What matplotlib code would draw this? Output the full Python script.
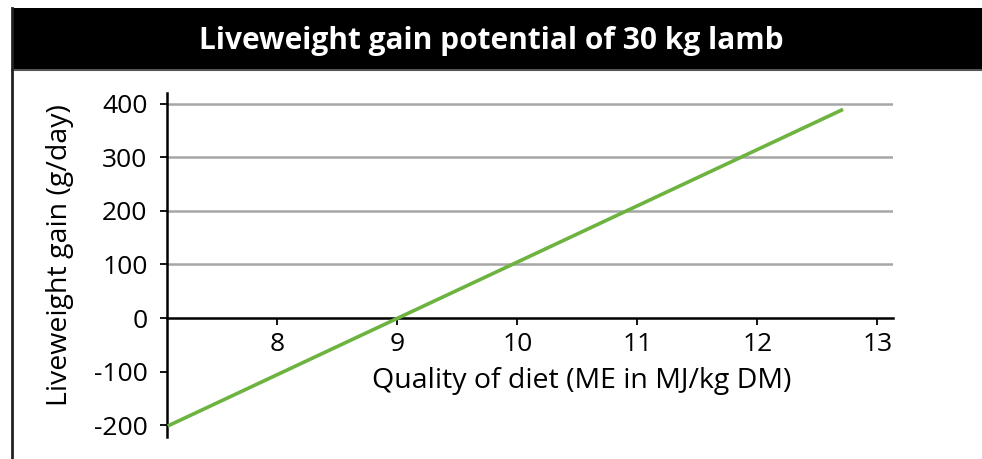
import matplotlib.pyplot as plt
from matplotlib.patches import Rectangle
from matplotlib.lines import Line2D

# data
diet_me = [7.1, 12.7]          # MJ/kg DM
lw_gain = [-200, 388]          # g/day
x_ticks = [8, 9, 10, 11, 12, 13]
y_ticks = [-200, -100, 0, 100, 200, 300, 400]
grid_levels = [100, 200, 300, 400]

plt.rcParams['font.family'] = ['Open Sans', 'DejaVu Sans']
plt.rcParams['axes.unicode_minus'] = False

fig = plt.figure(figsize=(9.82, 4.59), dpi=100)

# title band + left frame line
fig.patches.append(Rectangle((12 / 982, 1 - 70 / 459), 1, 62 / 459,
                             transform=fig.transFigure, facecolor='black',
                             edgecolor='none', zorder=0))
fig.lines.append(Line2D([12 / 982, 1], [1 - 70 / 459] * 2, transform=fig.transFigure,
                        color='#555555', lw=1.5))
fig.lines.append(Line2D([12 / 982] * 2, [0, 1 - 8 / 459], transform=fig.transFigure,
                        color='#222222', lw=2))
fig.text(491 / 982, 1 - 41 / 459, 'Liveweight gain potential of 30 kg lamb',
         color='white', fontsize=21.5, fontweight='bold', ha='center', va='center')

ax = fig.add_axes([167 / 982, 1 - 437 / 459, (893 - 167) / 982, (437 - 93) / 459])
for g in grid_levels:
    ax.axhline(g, color='#a6a6a6', lw=1.8, zorder=1)
ax.plot(diet_me, lw_gain, color='#6db33f', lw=2.6, zorder=3)

ax.set_xlim(7.08, 13.13)
ax.set_ylim(-222, 420)
ax.set_xticks(x_ticks)
ax.set_yticks(y_ticks)
ax.spines['top'].set_visible(False)
ax.spines['right'].set_visible(False)
ax.spines['bottom'].set_position(('data', 0))
ax.spines['bottom'].set_linewidth(1.8)
ax.spines['left'].set_linewidth(1.8)
ax.tick_params(axis='both', labelsize=19, width=1.3, length=5, direction='out')
ax.tick_params(axis='x', pad=5)
ax.tick_params(axis='y', pad=9)
ax.set_facecolor('none')

fig.text(60 / 982, 1 - 255 / 459, 'Liveweight gain (g/day)', rotation=90,
         fontsize=20.5, ha='center', va='center')
fig.text(582 / 982, 1 - 381 / 459, 'Quality of diet (ME in MJ/kg DM)',
         fontsize=20.5, ha='center', va='center')

fig.savefig('out.png', dpi=100)
